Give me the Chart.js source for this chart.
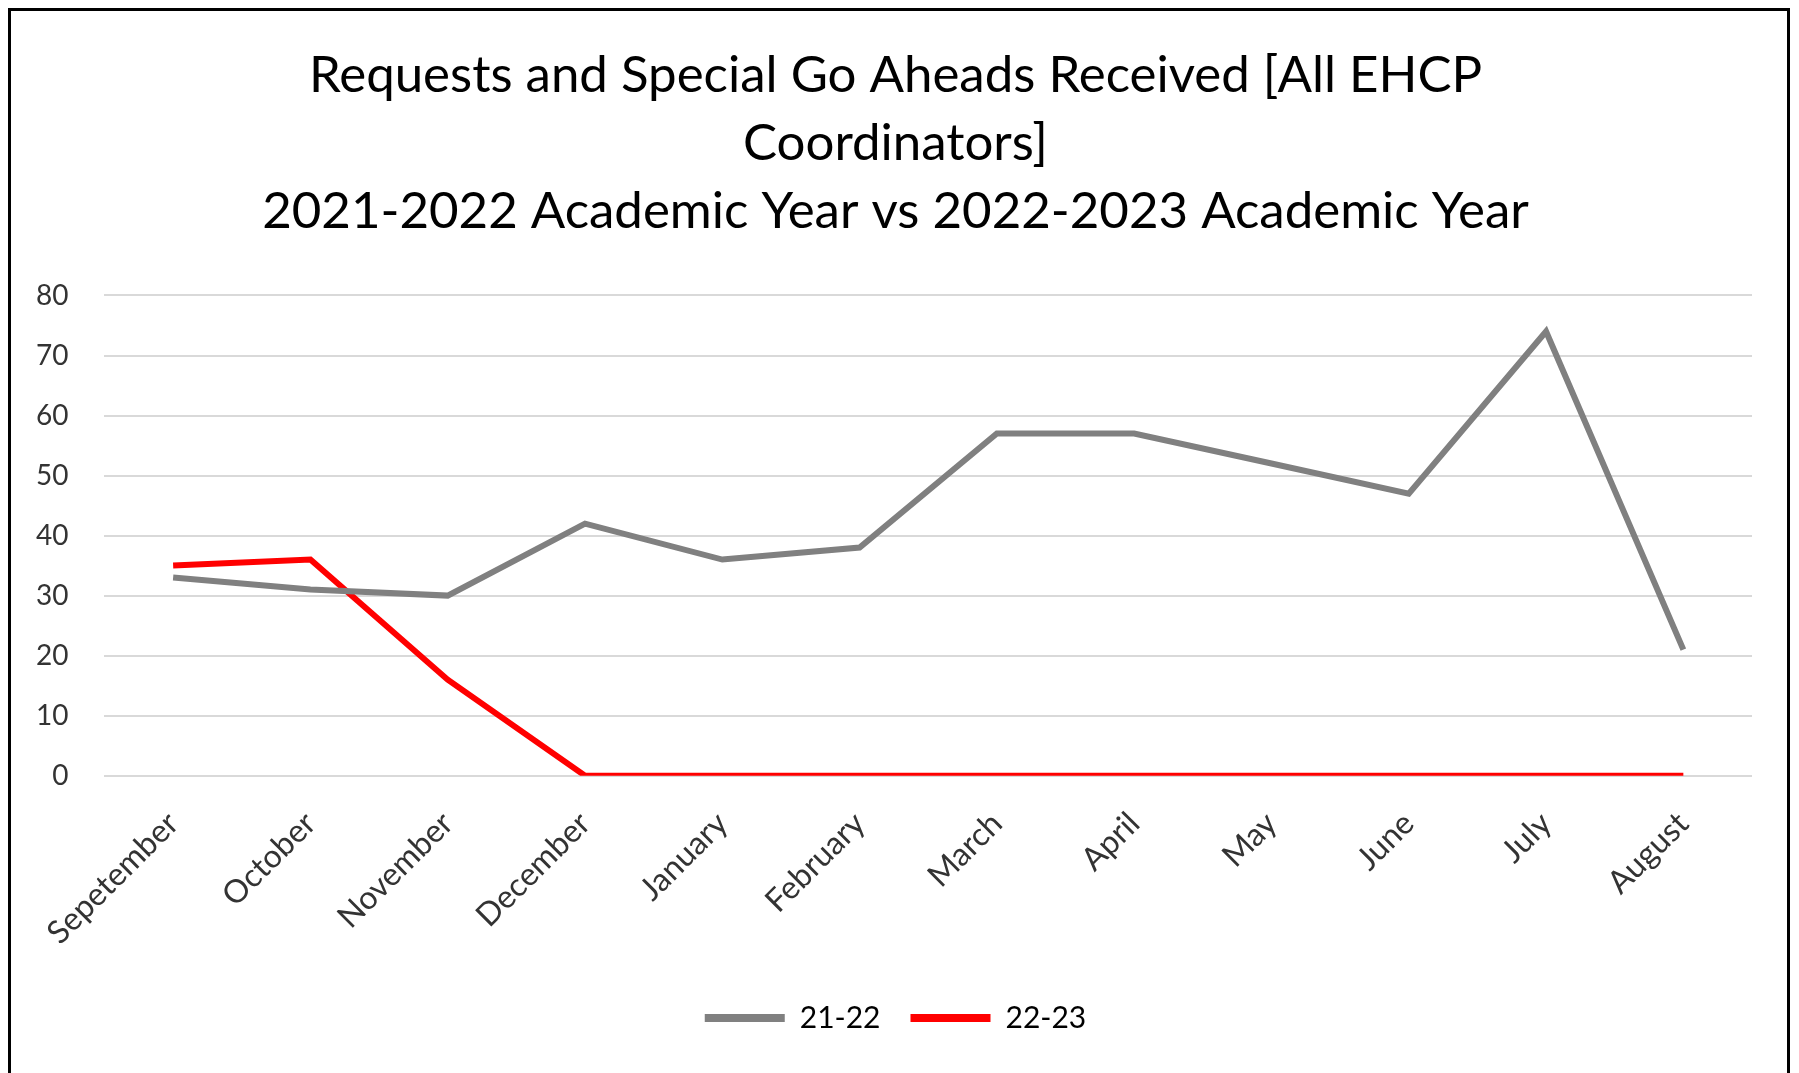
<!DOCTYPE html>
<html>
<head>
<meta charset="utf-8">
<title>Requests and Special Go Aheads Received</title>
<script src="https://cdn.jsdelivr.net/npm/chart.js@4.4.1/dist/chart.umd.min.js"></script>
<style>
  html, body { margin: 0; padding: 0; background: #fff; overflow: hidden; }
  #wrap { position: relative; width: 1799px; height: 1073px; }
  #frame {
    position: absolute; left: 8px; top: 8px; width: 1776px; height: 1100px;
    border: 3px solid #000; pointer-events: none;
  }
</style>
</head>
<body>
<div id="wrap">
  <canvas id="chart"></canvas>
  <div id="frame"></div>
</div>
<script>
// month labels (the typo is in the original)
const months = ["Sepetember", "October", "November", "December", "January", "February",
  "March", "April", "May", "June", "July", "August"];

// 2021-2022 academic year
const year2122 = [33, 31, 30, 42, 36, 38, 57, 57, 52, 47, 74, 21];
// 2022-2023 academic year
const year2223 = [35, 36, 16, 0, 0, 0, 0, 0, 0, 0, 0, 0];

const titleLines = [
  "Requests and Special Go Aheads Received [All EHCP",
  "Coordinators]",
  "2021-2022 Academic Year vs 2022-2023 Academic Year",
];

const yMin = 0;
const yMax = 80;
const yStep = 10;

const FONT = "Lato, 'Open Sans', sans-serif";

const ctx = document.getElementById("chart").getContext("2d");

new Chart(ctx, {
  type: "line",
  data: {
    labels: months,
    datasets: [
      {
        label: "21-22",
        data: year2122,
        borderColor: "#808080",
        backgroundColor: "#808080",
        borderWidth: 6,
        pointRadius: 0,
        tension: 0,
      },
      {
        label: "22-23",
        data: year2223,
        borderColor: "#ff0000",
        backgroundColor: "#ff0000",
        borderWidth: 6,
        pointRadius: 0,
        tension: 0,
      },
    ],
  },
  options: {
    responsive: true,
    maintainAspectRatio: false,
    animation: false,
    layout: { padding: { left: 0, right: 8, top: 42, bottom: 30 } },
    plugins: {
      title: {
        display: true,
        text: titleLines,
        color: "#000",
        font: { family: FONT, size: 51, weight: "normal", lineHeight: 1.33 },
        padding: { top: 0, bottom: 50 },
      },
      legend: {
        position: "bottom",
        labels: {
          color: "#000",
          font: { family: FONT, size: 30 },
          boxWidth: 80,
          boxHeight: 8,
          padding: 30,
          generateLabels: (chart) =>
            Chart.defaults.plugins.legend.labels
              .generateLabels(chart)
              .map((l) => ({ ...l, lineWidth: 0 })),
        },
      },
      tooltip: { enabled: false },
    },
    scales: {
      x: {
        offset: true,
        grid: { display: false },
        border: { display: false },
        ticks: {
          color: "#333",
          font: { family: FONT, size: 32 },
          minRotation: 45,
          maxRotation: 45,
          padding: 21,
        },
      },
      y: {
        min: yMin,
        max: yMax,
        grid: { color: "#d9d9d9", lineWidth: 2, drawTicks: false },
        border: { display: false },
        ticks: {
          stepSize: yStep,
          color: "#333",
          font: { family: FONT, size: 28 },
          padding: 36,
        },
      },
      // empty right-hand strip so the title stays centred on the page
      yRight: {
        position: "right",
        grid: { drawOnChartArea: false, drawTicks: false },
        border: { display: false },
        ticks: { display: false },
        afterFit: (scale) => { scale.width = 39; },
      },
    },
  },
});
</script>
</body>
</html>
